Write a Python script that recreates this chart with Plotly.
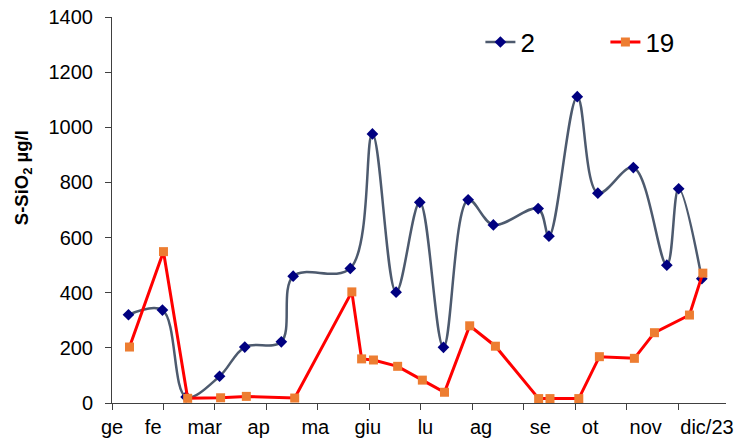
import plotly.graph_objects as go

# month position (0 = start of January, 1 = start of February, ...)
x_s2 = [0.32, 0.98, 1.44, 2.09, 2.58, 3.29, 3.52, 4.63, 5.06, 5.52, 5.98,
        6.44, 6.92, 7.41, 8.28, 8.49, 9.04, 9.44, 10.13, 10.78, 11.01, 11.46]
y_s2 = [320, 337, 22, 97, 203, 222, 460, 488, 976, 402, 728,
        202, 737, 646, 705, 605, 1111, 761, 854, 500, 777, 451]

x_s19 = [0.34, 1.00, 1.47, 2.11, 2.61, 3.55, 4.66, 4.85, 5.08, 5.55, 6.03,
         6.46, 6.95, 7.45, 8.29, 8.51, 9.07, 9.47, 10.15, 10.54, 11.22, 11.48]
y_s19 = [203, 549, 17, 19, 24, 18, 403, 160, 156, 133, 83,
         39, 280, 206, 16, 16, 16, 168, 162, 255, 319, 471]

month_labels = ["ge", "fe", "mar", "ap", "ma", "giu", "lu", "ag", "se", "ot", "nov", "dic/23"]
label_pos = [0.0, 0.80, 1.80, 2.85, 3.95, 4.97, 6.09, 7.17, 8.32, 9.29, 10.37, 11.56]
month_starts = list(range(12))
y_ticks = [0, 200, 400, 600, 800, 1000, 1200, 1400]

FONT = "Liberation Sans, Arial, sans-serif"

fig = go.Figure()
fig.add_trace(go.Scatter(
    x=x_s2, y=y_s2, name="2", mode="lines+markers",
    line=dict(color="#4D5A6E", width=2.5, shape="spline", smoothing=1.0),
    marker=dict(symbol="diamond", size=9, color="#000080"),
))
fig.add_trace(go.Scatter(
    x=x_s19, y=y_s19, name="19", mode="lines+markers",
    line=dict(color="#FF0000", width=3),
    marker=dict(symbol="square", size=9, color="#ED7D31"),
))

fig.update_layout(
    width=741, height=442,
    margin=dict(l=112, r=15, t=17, b=39, autoexpand=False),
    paper_bgcolor="white", plot_bgcolor="white",
    font=dict(family=FONT, size=20, color="black"),
    showlegend=True,
    legend=dict(orientation="h", x=0.60, y=0.935, xanchor="left", yanchor="middle",
                font=dict(size=26), entrywidth=80, bgcolor="rgba(0,0,0,0)"),
    xaxis=dict(range=[0, 11.93], showgrid=False, zeroline=False, automargin=False,
               showline=True, linecolor="#404040", linewidth=1,
               tickmode="array", tickvals=label_pos, ticktext=month_labels,
               ticks="outside", ticklen=6, tickcolor="rgba(0,0,0,0)",
               tickfont=dict(size=20), ticklabeloverflow="allow",
               minor=dict(tickmode="array", tickvals=month_starts, ticks="outside",
                          ticklen=6, tickcolor="#404040", tickwidth=1, showgrid=False)),
    yaxis=dict(range=[0, 1400], showgrid=False, zeroline=False, automargin=False,
               showline=True, linecolor="#404040", linewidth=1,
               tickmode="array", tickvals=y_ticks,
               ticks="outside", ticklen=6, tickcolor="#404040",
               tickfont=dict(size=20), ticklabelstandoff=8, ticklabeloverflow="allow"),
)
fig.add_annotation(
    text="<b>S-SiO<sub>2</sub> µg/l</b>", textangle=-90,
    xref="paper", yref="paper", x=-0.145, y=0.585,
    xanchor="center", yanchor="middle", showarrow=False,
    font=dict(size=18.5, family=FONT, color="black"),
)

fig.write_html("out.html", config={"displayModeBar": False},
               post_script="document.body.style.margin='0px';")
